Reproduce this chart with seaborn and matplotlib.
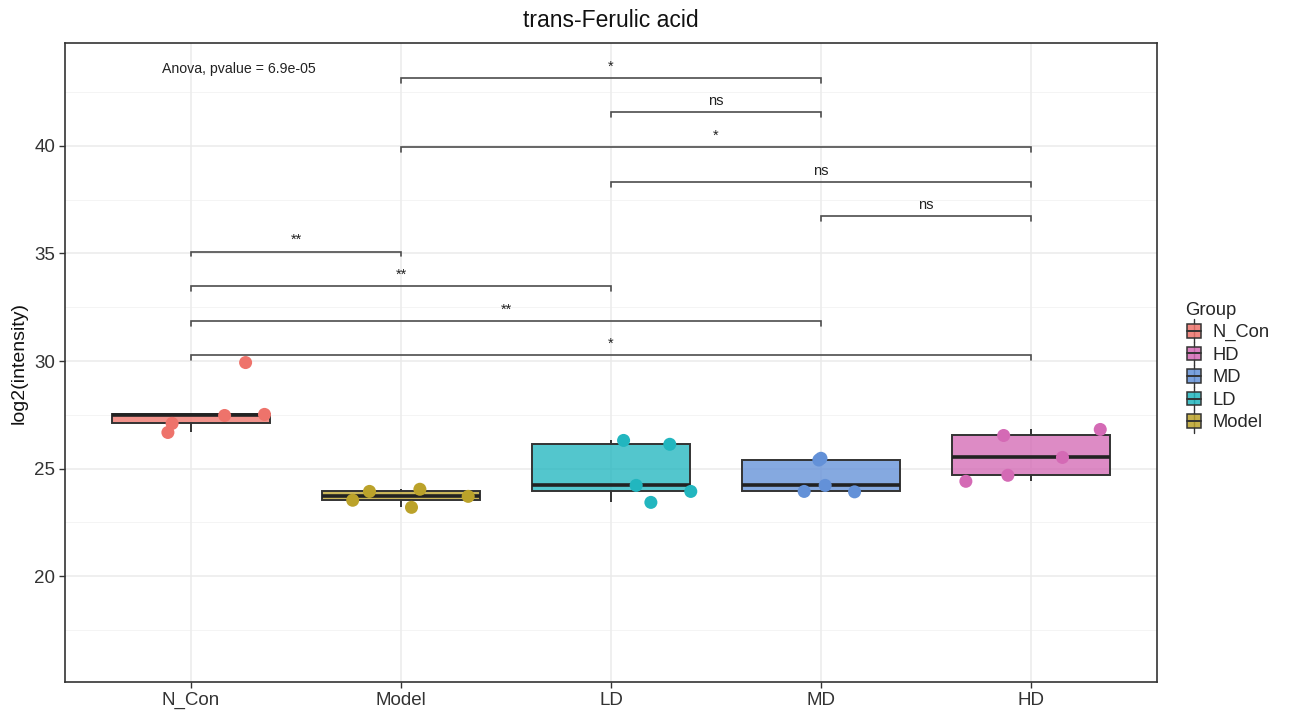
import numpy as np
import pandas as pd
import matplotlib
matplotlib.use("Agg")
import matplotlib.pyplot as plt
from matplotlib.colors import to_rgba
from matplotlib.lines import Line2D
from matplotlib.patches import Rectangle, Patch
from matplotlib.legend_handler import HandlerBase
import seaborn as sns

# ---- data -------------------------------------------------------------
groups = ["N_Con", "Model", "LD", "MD", "HD"]
legend_order = ["N_Con", "HD", "MD", "LD", "Model"]

n_con = [26.68, 27.10, 27.47, 27.52, 29.93]
model = [23.53, 23.94, 24.04, 23.20, 23.71]
ld = [26.31, 26.13, 24.22, 23.43, 23.94]
md = [23.94, 25.48, 24.22, 23.92, 25.40]
hd = [24.41, 26.54, 24.69, 25.52, 26.82]

# horizontal jitter of each sample point (in category units)
jit_n_con = [-0.11, -0.09, 0.16, 0.35, 0.26]
jit_model = [-0.23, -0.15, 0.09, 0.05, 0.32]
jit_ld = [0.06, 0.28, 0.12, 0.19, 0.38]
jit_md = [-0.08, 0.00, 0.02, 0.16, -0.01]
jit_hd = [-0.31, -0.13, -0.11, 0.15, 0.33]

# pairwise comparisons: (group a, group b, label, bracket height)
comp_a = ["Model", "LD", "Model", "LD", "MD", "N_Con", "N_Con", "N_Con", "N_Con"]
comp_b = ["MD", "MD", "HD", "HD", "HD", "Model", "LD", "MD", "HD"]
comp_label = ["*", "ns", "*", "ns", "ns", "**", "**", "**", "*"]
comp_y = [43.16, 41.58, 39.95, 38.33, 36.75, 35.09, 33.47, 31.84, 30.26]

anova_text = "Anova, pvalue = 6.9e-05"

palette = {
    "N_Con": "#EE736B",
    "Model": "#BBA22A",
    "LD": "#22B6BF",
    "MD": "#6391D8",
    "HD": "#D46AB5",
}

values = [n_con, model, ld, md, hd]
jitters = [jit_n_con, jit_model, jit_ld, jit_md, jit_hd]
df = pd.DataFrame({
    "Group": np.repeat(groups, [len(v) for v in values]),
    "value": np.concatenate(values),
    "jit": np.concatenate(jitters),
})
df["xpos"] = df["Group"].map({g: i for i, g in enumerate(groups)}) + df["jit"]

# ---- style ------------------------------------------------------------
sns.set_theme(style="white")
plt.rcParams["font.family"] = ["Liberation Sans", "DejaVu Sans"]

fig = plt.figure(figsize=(12.95, 7.18), dpi=100)
ax = fig.add_axes([0.0502, 0.0501, 0.8432, 0.8899])
ax.set_facecolor("white")

# grid (major + minor) in light grey
for yv in [20, 25, 30, 35, 40]:
    ax.axhline(yv, color="#EBEBEB", lw=1.1, zorder=0)
for yv in [17.5, 22.5, 27.5, 32.5, 37.5, 42.5]:
    ax.axhline(yv, color="#F2F2F2", lw=0.6, zorder=0)
for i in range(len(groups)):
    ax.axvline(i, color="#EBEBEB", lw=1.1, zorder=0)

sns.boxplot(
    data=df, x="Group", y="value", hue="Group", order=groups,
    hue_order=groups, palette=palette, saturation=1, width=0.75,
    dodge=False, showcaps=False, showfliers=False, whis=1.5,
    linewidth=1.4, linecolor="#333333", legend=False, ax=ax,
    medianprops=dict(color="#222222", linewidth=2.6),
    whiskerprops=dict(color="#333333", linewidth=1.4),
)
for p in ax.patches:
    fc = p.get_facecolor()
    p.set_facecolor(to_rgba(fc, 0.78))
    p.set_zorder(2)

sns.scatterplot(
    data=df, x="xpos", y="value", hue="Group", hue_order=groups,
    palette=palette, s=88, edgecolor="none", linewidth=0,
    legend=False, ax=ax, zorder=4,
)

# significance brackets
tip = 0.22
for a, b, lab, yb in zip(comp_a, comp_b, comp_label, comp_y):
    xa, xb = groups.index(a), groups.index(b)
    ax.plot([xa, xa, xb, xb], [yb - tip, yb, yb, yb - tip],
            color="#4D4D4D", lw=1.2, zorder=3, solid_joinstyle="miter")
    ax.text((xa + xb) / 2, yb + 0.2, lab, ha="center", va="bottom",
            fontsize=10.5, color="#222222")

ax.text(0.23, 43.57, anova_text, ha="center", va="center",
        fontsize=10.2, color="#222222")

ax.set_xlim(-0.6, 4.6)
ax.set_ylim(15.08, 44.78)
ax.set_yticks([20, 25, 30, 35, 40])
ax.set_xticks(range(len(groups)))
ax.set_xticklabels(groups)
ax.set_xlabel("")
ax.set_ylabel("log2(intensity)", fontsize=14, color="#111111", labelpad=5)
ax.tick_params(axis="both", which="major", length=4, width=1,
               color="#333333", labelsize=13.5, labelcolor="#333333",
               pad=3, bottom=True, left=True)
for s in ax.spines.values():
    s.set_color("#333333")
    s.set_linewidth(1.2)
    s.set_visible(True)

fig.text(0.4718, 0.972, "trans-Ferulic acid", ha="center", va="center",
         fontsize=16.5, color="#111111")


# legend keys drawn as miniature boxplots
class BoxKey(HandlerBase):
    def create_artists(self, legend, orig_handle, xdescent, ydescent,
                       width, height, fontsize, trans):
        fc = orig_handle.get_facecolor()
        cx = width / 2 - xdescent
        bw, bh = width * 0.8, height * 0.85
        rect = Rectangle((cx - bw / 2, -ydescent + (height - bh) / 2), bw, bh,
                         facecolor=fc, edgecolor="#333333", lw=1.1,
                         transform=trans)
        vline = Line2D([cx, cx], [-ydescent - height * 0.2,
                                  -ydescent + height * 1.2],
                       color="#333333", lw=1.0, transform=trans)
        med = Line2D([cx - bw / 2, cx + bw / 2],
                     [-ydescent + height / 2] * 2,
                     color="#333333", lw=1.4, transform=trans)
        return [vline, rect, med]


handles = [Patch(facecolor=to_rgba(palette[g], 0.85), label=g)
           for g in legend_order]
leg = fig.legend(
    handles=handles, labels=legend_order, title="Group",
    handler_map={Patch: BoxKey()}, loc="upper left",
    bbox_to_anchor=(0.9025, 0.603), frameon=False, fontsize=13.2,
    title_fontsize=13.3, handlelength=0.95, handleheight=1.0,
    handletextpad=0.55, labelspacing=0.22, alignment="left",
)

fig.savefig("out.png", dpi=100)
